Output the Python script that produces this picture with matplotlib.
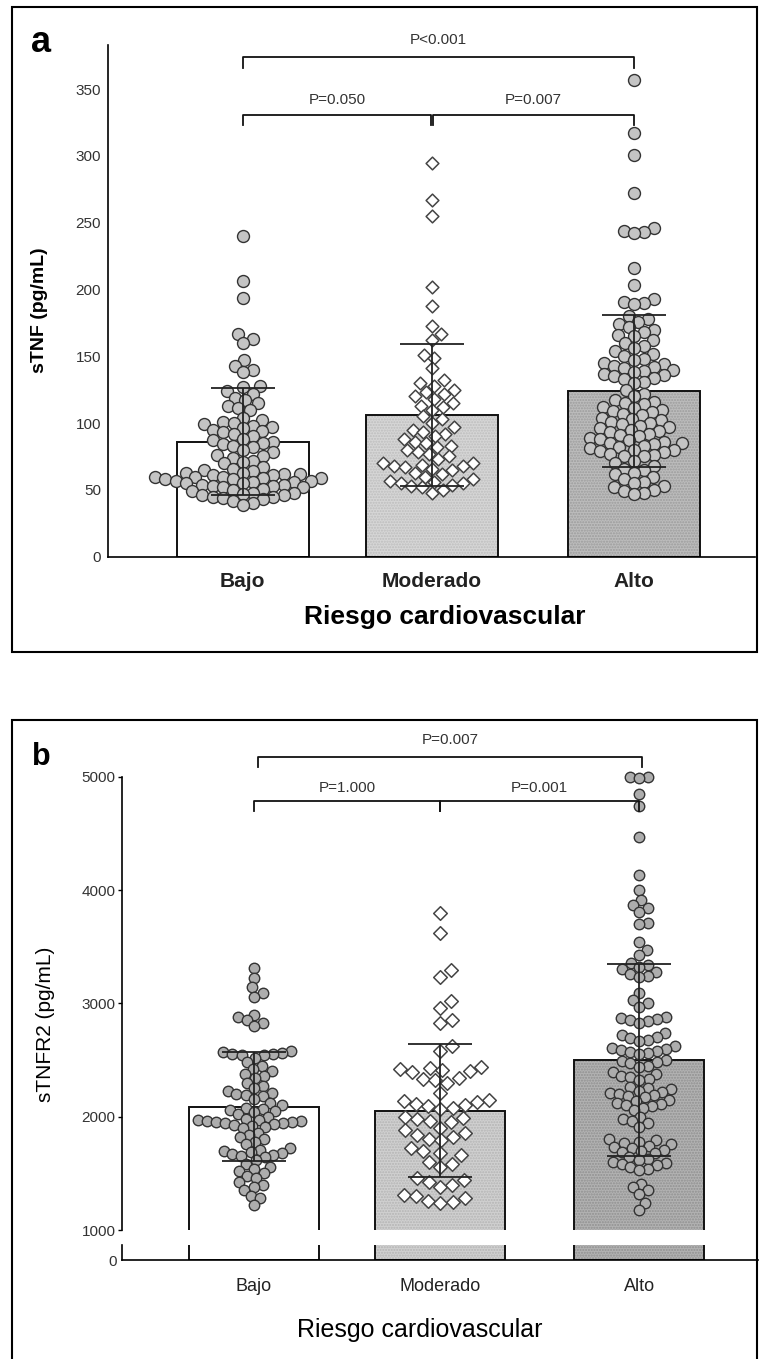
import numpy as np
import matplotlib.pyplot as plt
from matplotlib.patches import Rectangle

plt.rcParams['font.family'] = ['Liberation Sans', 'DejaVu Sans']

W, H = 760, 1359

groups = ['Bajo', 'Moderado', 'Alto']

# sTNF (pg/mL) per group
tnf_bajo = [240, 206, 194, 167, 163, 160, 147, 143, 140, 138, 128, 127, 124, 122,
            119, 117, 115, 113, 111, 110, 104, 102, 101, 100, 99, 98, 97, 96, 95,
            94, 93, 92, 90, 88, 87, 86, 85, 84, 83, 82, 80, 78, 76, 75, 74, 72, 71,
            70, 67, 66, 65, 64, 63, 63, 62, 62, 61, 61, 60, 60, 60, 59, 59, 58, 58,
            57, 57, 56, 56, 55, 55, 54, 54, 53, 53, 52, 52, 51, 50, 49, 48, 48, 47,
            46, 46, 45, 45, 44, 43, 42, 40, 39]
tnf_mod = [295, 267, 255, 202, 188, 173, 167, 162, 151, 149, 141, 132, 130, 128,
           125, 123, 122, 120, 118, 115, 113, 112, 110, 105, 103, 100, 97, 95, 93,
           92, 90, 88, 86, 85, 83, 82, 80, 78, 77, 75, 73, 70, 70, 69, 68, 68, 67,
           66, 65, 63, 62, 60, 58, 57, 56, 55, 55, 54, 53, 52, 50, 48]
tnf_alto = [357, 317, 301, 272, 246, 244, 243, 242, 216, 203, 193, 191, 190, 189,
            180, 178, 176, 174, 172, 170, 168, 166, 165, 162, 160, 158, 156, 154,
            152, 150, 148, 147, 145, 144, 143, 142, 141, 140, 139, 138, 137, 136,
            135, 134, 133, 131, 130, 125, 122, 120, 117, 116, 115, 114, 112, 111,
            110, 109, 108, 107, 106, 104, 103, 102, 101, 100, 99, 98, 97, 96, 95,
            94, 93, 92, 91, 90, 89, 88, 87, 86, 85, 85, 84, 83, 82, 81, 80, 80, 79,
            78, 77, 76, 75, 75, 72, 70, 68, 66, 65, 63, 62, 60, 58, 56, 55, 53, 52,
            50, 49, 48, 47]
tnf_mean = [86, 106, 124]
tnf_sd = [40, 53, 57]

# sTNFR2 (pg/mL) per group
tnfr2_bajo = [3310, 3224, 3140, 3090, 3060, 2900, 2880, 2850, 2830, 2800, 2580,
              2570, 2560, 2555, 2550, 2545, 2540, 2520, 2480, 2450, 2420, 2400,
              2380, 2360, 2340, 2300, 2270, 2250, 2230, 2210, 2200, 2190, 2180,
              2160, 2120, 2100, 2080, 2070, 2060, 2050, 2040, 2020, 2000, 1980,
              1975, 1970, 1965, 1960, 1955, 1950, 1945, 1940, 1935, 1930, 1920,
              1910, 1900, 1860, 1840, 1820, 1800, 1780, 1760, 1720, 1710, 1700,
              1690, 1680, 1670, 1660, 1650, 1640, 1620, 1580, 1560, 1540, 1520,
              1500, 1480, 1460, 1420, 1400, 1380, 1350, 1300, 1280, 1220]
tnfr2_mod = [3795, 3620, 3290, 3230, 3020, 2960, 2850, 2830, 2620, 2580, 2440,
             2430, 2420, 2410, 2400, 2390, 2340, 2330, 2320, 2300, 2210, 2150,
             2140, 2130, 2110, 2100, 2090, 2080, 2070, 2000, 1990, 1980, 1960,
             1950, 1900, 1880, 1860, 1840, 1820, 1800, 1790, 1720, 1700, 1680,
             1660, 1600, 1580, 1560, 1460, 1440, 1420, 1400, 1380, 1310, 1300,
             1280, 1260, 1250, 1240]
tnfr2_alto = [5000, 4995, 4990, 4850, 4740, 4470, 4130, 4000, 3910, 3870, 3840,
              3810, 3710, 3700, 3545, 3470, 3430, 3360, 3340, 3320, 3300, 3280,
              3260, 3240, 3230, 3090, 3030, 3000, 2970, 2880, 2870, 2860, 2850,
              2840, 2830, 2740, 2720, 2700, 2690, 2680, 2670, 2620, 2610, 2600,
              2590, 2580, 2570, 2560, 2550, 2500, 2490, 2480, 2470, 2450, 2440,
              2390, 2380, 2360, 2350, 2330, 2320, 2260, 2250, 2240, 2230, 2220,
              2210, 2200, 2190, 2180, 2170, 2150, 2140, 2120, 2110, 2100, 2090,
              2080, 2060, 2000, 1980, 1960, 1940, 1910, 1800, 1790, 1780, 1770,
              1760, 1740, 1730, 1720, 1710, 1700, 1690, 1680, 1640, 1630, 1620,
              1600, 1590, 1580, 1570, 1560, 1540, 1530, 1410, 1380, 1350, 1320,
              1240, 1180]
tnfr2_mean = [2088, 2053, 2500]
tnfr2_sd = [480, 585, 850]

xpos = [0, 0.967, 2]
bar_w = 0.675


def fx(px):
    return px / W


def fy(py):
    return 1 - py / H


def swarm_x(ax, xc, vals, diam):
    # simple beeswarm: place each point as close to the centre as possible
    x0, x1 = ax.get_xlim()
    y0, y1 = ax.get_ylim()
    bb = ax.get_window_extent()
    sx = bb.width / (x1 - x0)
    sy = bb.height / (y1 - y0)
    vals = np.asarray(vals, dtype=float)
    out = np.zeros(len(vals))
    placed = []
    for i in np.argsort(vals):
        yp = vals[i] * sy
        near = [(px, py) for px, py in placed if abs(py - yp) < diam]
        cands = [0.0]
        for px, py in near:
            dx = np.sqrt(diam ** 2 - (py - yp) ** 2)
            cands += [px + dx, px - dx]
        cands.sort(key=abs)
        for c in cands:
            if all((c - px) ** 2 + (yp - py) ** 2 >= diam ** 2 - 1e-6 for px, py in near):
                break
        placed.append((c, yp))
        out[i] = xc + c / sx
    return out


def draw_bars(ax, means, fills, hatch_cols):
    ax.bar(xpos, means, width=bar_w, color=fills, lw=0, zorder=1)
    ax.bar(xpos[1:], means[1:], width=bar_w, facecolor='none', edgecolor=hatch_cols,
           hatch='......', lw=0, zorder=1.1)
    ax.bar(xpos, means, width=bar_w, facecolor='none', edgecolor='#111', lw=1.4, zorder=1.2)


def bracket(ax, x1, x2, y, h, text, ty, fs=11):
    ax.plot([x1, x1, x2, x2], [y - h, y, y, y - h], color='#111', lw=1.3,
            clip_on=False, zorder=5)
    ax.text((x1 + x2) / 2, ty, text, ha='center', va='center', fontsize=fs,
            color='#333', clip_on=False)


fig = plt.figure(figsize=(W / 100, H / 100), dpi=100)

# ---------- panel a: sTNF ----------
ax = fig.add_axes([fx(108), fy(556.7), (755 - 108) / W, (556.7 - 45) / H])
ax.set_xlim(-0.69, 2.62)
ax.set_ylim(0, 383)
draw_bars(ax, tnf_mean, ['white', '#d6d6d6', '#bcbcbc'], ['#bdbdbd', '#9c9c9c'])

a_sets = [tnf_bajo, tnf_mod, tnf_alto]
for k, vals in enumerate(a_sets):
    if k == 1:
        xs = swarm_x(ax, xpos[k], vals, 11.0)
        ax.scatter(xs, vals, s=42, marker='D', facecolor='white', edgecolor='#444',
                   lw=1.1, zorder=3, clip_on=False)
    else:
        xs = swarm_x(ax, xpos[k], vals, 10.5)
        ax.scatter(xs, vals, s=74, marker='o', facecolor='#c4c4c4', edgecolor='#333',
                   lw=1.0, zorder=3, clip_on=False)

ax.errorbar(xpos, tnf_mean, yerr=tnf_sd, fmt='none', ecolor='#222', elinewidth=1.3,
            capsize=23, capthick=1.3, zorder=4)

bracket(ax, xpos[0], xpos[1] - 0.005, 330.6, 7.6, 'P=0.050', 341.7)
bracket(ax, xpos[1] + 0.005, xpos[2], 330.6, 7.6, 'P=0.007', 341.7)
bracket(ax, xpos[0], xpos[2], 374, 8, 'P<0.001', 386.7)

ax.spines[['top', 'right']].set_visible(False)
for s in ['left', 'bottom']:
    ax.spines[s].set_linewidth(1.2)
ax.set_yticks(range(0, 351, 50))
ax.tick_params(axis='y', length=0, pad=5, labelsize=11, labelcolor='#333')
ax.set_xticks(xpos)
ax.set_xticklabels(groups, fontsize=15, fontweight='bold', color='#222')
ax.tick_params(axis='x', length=0, pad=11)

# ---------- panel b: sTNFR2 (broken axis) ----------
axb = fig.add_axes([fx(122), fy(1230), (758 - 122) / W, (1230 - 776.7) / H])
axl = fig.add_axes([fx(122), fy(1260), (758 - 122) / W, 15 / H])
for a_ in (axb, axl):
    a_.set_xlim(-0.686, 2.618)
    draw_bars(a_, tnfr2_mean, ['white', '#d0d0d0', '#b2b2b2'], ['#b4b4b4', '#909090'])
    a_.spines[['top', 'right']].set_visible(False)
    a_.spines['left'].set_linewidth(1.2)
axb.set_ylim(1000, 5000)
axl.set_ylim(0, 100)

b_sets = [tnfr2_bajo, tnfr2_mod, tnfr2_alto]
for k, vals in enumerate(b_sets):
    if k == 1:
        xs = swarm_x(axb, xpos[k], vals, 12.5)
        axb.scatter(xs, vals, s=48, marker='D', facecolor='white', edgecolor='#444',
                    lw=1.1, zorder=3, clip_on=False)
    else:
        xs = swarm_x(axb, xpos[k], vals, 9.2)
        axb.scatter(xs, vals, s=57, marker='o', facecolor='#adadad', edgecolor='#333',
                    lw=1.0, zorder=3, clip_on=False)

axb.errorbar(xpos, tnfr2_mean, yerr=tnfr2_sd, fmt='none', ecolor='#222',
             elinewidth=1.3, capsize=23, capthick=1.3, zorder=4)

bracket(axb, xpos[0], xpos[1], 4786, 86, 'P=1.000', 4900)
bracket(axb, xpos[1], xpos[2], 4786, 86, 'P=0.001', 4900)
bracket(axb, xpos[0] + 0.02, xpos[2] + 0.015, 5171, 83, 'P=0.007', 5324)

axb.spines['bottom'].set_visible(False)
axb.set_yticks(range(1000, 5001, 1000))
axb.set_xticks([])
axb.tick_params(axis='y', length=3, width=1, pad=1.5, labelsize=11, labelcolor='#333')

axl.spines['bottom'].set_linewidth(1.2)
axl.set_yticks([0])
axl.tick_params(axis='y', length=0, pad=4, labelsize=11, labelcolor='#333')
axl.set_xticks(xpos)
axl.set_xticklabels(groups, fontsize=13, color='#222')
axl.tick_params(axis='x', length=0, pad=13)

# ---------- labels and frames ----------
fig.text(fx(41), fy(43), 'a', fontsize=26, fontweight='bold', ha='center', va='center')
fig.text(fx(41), fy(757), 'b', fontsize=22, fontweight='bold', ha='center', va='center')
fig.text(fx(40), fy(310), 'sTNF (pg/mL)', rotation=90, fontsize=14, fontweight='bold',
         ha='center', va='center')
fig.text(fx(46), fy(1024), 'sTNFR2 (pg/mL)', rotation=90, fontsize=15,
         ha='center', va='center')
fig.text(fx(445), fy(617), 'Riesgo cardiovascular', fontsize=19, fontweight='bold',
         ha='center', va='center')
fig.text(fx(420), fy(1330), 'Riesgo cardiovascular', fontsize=18,
         ha='center', va='center')

fig.add_artist(Rectangle((fx(12), fy(652)), (757 - 12) / W, (652 - 7) / H,
                         transform=fig.transFigure, fill=False, lw=1.5, ec='black'))
fig.add_artist(Rectangle((fx(12), fy(1370)), (757 - 12) / W, (1370 - 720) / H,
                         transform=fig.transFigure, fill=False, lw=1.5, ec='black'))

fig.savefig('out.png', dpi=100)
